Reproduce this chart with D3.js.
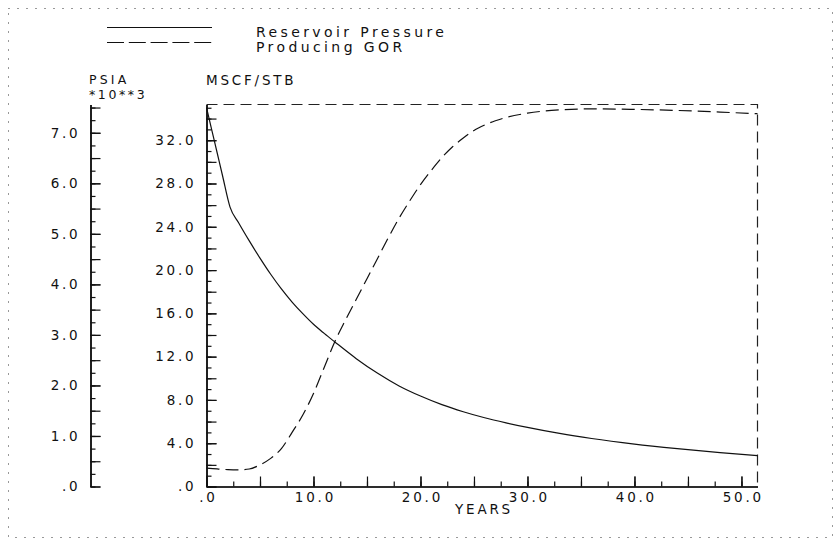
<!DOCTYPE html>
<html>
<head>
<meta charset="utf-8">
<script src="https://cdn.jsdelivr.net/npm/d3@7"></script>
<style>
  html, body { margin: 0; padding: 0; background: #fff; }
  svg { display: block; }
  text { font-family: "DejaVu Sans", "Liberation Sans", sans-serif; fill: #111; }
</style>
</head>
<body>
<svg id="chart" width="838" height="542"></svg>
<script>
// ---- data ----
const pressureYears = [0, 0.5, 1, 1.5, 2.2, 3, 4, 5, 6, 7, 8, 9, 10, 11, 12, 14, 16, 18, 20, 22, 24, 26, 28, 30, 33, 36, 40, 44, 48, 51.5];
const pressurePsia  = [7.50, 7.05, 6.60, 6.15, 5.53, 5.22, 4.86, 4.52, 4.20, 3.91, 3.65, 3.42, 3.21, 3.03, 2.86, 2.53, 2.24, 1.99, 1.79, 1.62, 1.48, 1.36, 1.26, 1.17, 1.05, 0.95, 0.84, 0.75, 0.67, 0.61];
const gorYears = [0, 1, 2, 3, 4, 5, 6, 7, 8, 9, 10, 11, 12, 13, 14, 15, 16, 17, 18, 19, 20, 21, 22, 23, 24, 25, 26, 27, 28, 30, 33, 36, 40, 44, 48, 51.5];
const gorMscf  = [1.70, 1.62, 1.56, 1.54, 1.62, 2.0, 2.6, 3.5, 5.0, 6.6, 8.6, 11.0, 13.4, 15.4, 17.3, 19.2, 21.1, 23.0, 24.8, 26.4, 27.9, 29.2, 30.4, 31.4, 32.2, 32.9, 33.4, 33.8, 34.1, 34.5, 34.8, 34.9, 34.85, 34.75, 34.6, 34.45];
const legendLabels = ["Reservoir Pressure", "Producing GOR"];
const psiaLabelTicks = [0, 1, 2, 3, 4, 5, 6, 7];
const mscfLabelTicks = [0, 4, 8, 12, 16, 20, 24, 28, 32];
const yearLabelTicks = [0, 10, 20, 30, 40, 50];

// ---- layout ----
const L = 206.5, R = 757.5, T = 104.5, B = 486.5, PX = 90.5;
const svg = d3.select("#chart");

const x = d3.scaleLinear().domain([0, 51.5]).range([L, R]);
const yG = d3.scaleLinear().domain([0, 35.3]).range([B, T]);
const yP = d3.scaleLinear().domain([0, 7.56]).range([B, T]);

const fmt = v => d3.format(".1f")(v).replace(/^0\./, ".");
const FS = 13.5, LS = 2.8;

// outer dotted border
svg.append("rect").attr("x", 8.5).attr("y", 8.5).attr("width", 824).attr("height", 529)
  .attr("fill", "none").attr("stroke", "#333").attr("stroke-width", 1).attr("stroke-dasharray", "1,8");

function ticksEvery(step, max) { return d3.range(0, max + 1e-9, step); }

function styleAxis(g) {
  g.selectAll("path.domain").attr("stroke", "#111").attr("stroke-width", 1.2);
  g.selectAll(".tick line").attr("stroke", "#111").attr("stroke-width", 1.2);
  g.selectAll("text").attr("font-size", FS).attr("letter-spacing", LS)
    .attr("font-family", '"DejaVu Sans", sans-serif').attr("fill", "#111");
}

// ---- PSIA axis (left) ----
const gP1 = svg.append("g").attr("transform", `translate(${PX},0)`)
  .call(d3.axisLeft(yP).tickValues(ticksEvery(0.25, 7.5)).tickSizeInner(-5).tickSizeOuter(0).tickFormat(""));
const gP2 = svg.append("g").attr("transform", `translate(${PX},0)`)
  .call(d3.axisLeft(yP).tickValues(ticksEvery(0.5, 7.5)).tickSizeInner(-10).tickSizeOuter(0).tickFormat(""));
const gP3 = svg.append("g").attr("transform", `translate(${PX},0)`)
  .call(d3.axisLeft(yP).tickValues(psiaLabelTicks).tickSizeInner(-10).tickSizeOuter(0).tickPadding(10).tickFormat(fmt));
[gP1, gP2, gP3].forEach(styleAxis);

// ---- MSCF axis ----
const gG1 = svg.append("g").attr("transform", `translate(${L},0)`)
  .call(d3.axisLeft(yG).tickValues(ticksEvery(1, 35)).tickSizeInner(-5).tickSizeOuter(0).tickFormat(""));
const gG2 = svg.append("g").attr("transform", `translate(${L},0)`)
  .call(d3.axisLeft(yG).tickValues(ticksEvery(2, 35)).tickSizeInner(-10).tickSizeOuter(0).tickFormat(""));
const gG3 = svg.append("g").attr("transform", `translate(${L},0)`)
  .call(d3.axisLeft(yG).tickValues(mscfLabelTicks).tickSizeInner(-10).tickSizeOuter(0).tickPadding(10).tickFormat(fmt));
[gG1, gG2, gG3].forEach(styleAxis);

// ---- Years axis ----
const gX1 = svg.append("g").attr("transform", `translate(0,${B})`)
  .call(d3.axisBottom(x).tickValues(ticksEvery(2.5, 51)).tickSizeInner(-5).tickSizeOuter(0).tickFormat(""));
const gX2 = svg.append("g").attr("transform", `translate(0,${B})`)
  .call(d3.axisBottom(x).tickValues(ticksEvery(5, 51)).tickSizeInner(-10).tickSizeOuter(0).tickFormat(""));
const gX3 = svg.append("g").attr("transform", `translate(0,${B})`)
  .call(d3.axisBottom(x).tickValues(yearLabelTicks).tickSizeInner(-10).tickSizeOuter(0).tickPadding(6).tickFormat(fmt));
[gX1, gX2, gX3].forEach(styleAxis);
gX3.selectAll("text").attr("dx", LS / 2);

// ---- dashed frame (top and right) ----
svg.append("path").attr("d", `M${L},${T}H${R}V${B}`)
  .attr("fill", "none").attr("stroke", "#222").attr("stroke-width", 1.2).attr("stroke-dasharray", "11,6");

// ---- curves ----
const presData = pressureYears.map((t, i) => [t, pressurePsia[i]]);
const gorData = gorYears.map((t, i) => [t, gorMscf[i]]);

svg.append("path").datum(presData)
  .attr("d", d3.line().x(d => x(d[0])).y(d => yP(d[1])).curve(d3.curveMonotoneX))
  .attr("fill", "none").attr("stroke", "#111").attr("stroke-width", 1.2);

svg.append("path").datum(gorData)
  .attr("d", d3.line().x(d => x(d[0])).y(d => yG(d[1])).curve(d3.curveMonotoneX))
  .attr("fill", "none").attr("stroke", "#111").attr("stroke-width", 1.2).attr("stroke-dasharray", "13,6");

// ---- axis titles ----
const txt = (s, xx, yy, anchor, ls, fs) => svg.append("text").text(s).attr("x", xx).attr("y", yy)
  .attr("font-size", fs || FS).attr("letter-spacing", ls).attr("text-anchor", anchor || "start");
txt("PSIA", 89, 84, "start", 3.2, 12.5);
txt("*10**3", 89, 98.5, "start", 2.6, 12.5);
txt("MSCF/STB", 206, 85, "start", 2.8);
txt("YEARS", (L + R) / 2 + 2, 514, "middle", 2.8);

// ---- legend ----
const legendY = [27.5, 42.5];
const legendTextY = [36.5, 51.5];
legendLabels.forEach((lab, i) => {
  svg.append("line").attr("x1", 107).attr("x2", 212).attr("y1", legendY[i]).attr("y2", legendY[i])
    .attr("stroke", "#111").attr("stroke-width", 1.2)
    .attr("stroke-dasharray", i === 1 ? "17,4.8" : null);
  txt(lab, 256, legendTextY[i], "start", 3.4, 14);
});
</script>
</body>
</html>
